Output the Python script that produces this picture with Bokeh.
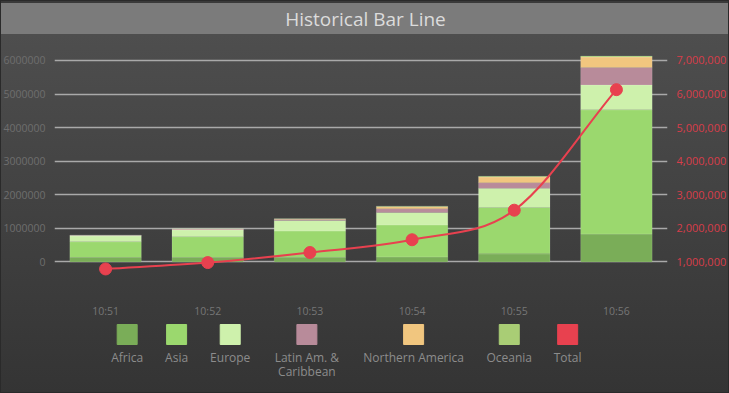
import numpy as np
from bokeh.plotting import figure
from bokeh.models import Range1d, LinearAxis, FixedTicker, NumeralTickFormatter, Label, ColumnDataSource
from bokeh.layouts import column
from bokeh.embed import file_html
from bokeh.resources import INLINE
from bokeh.core.properties import value

# ---------------- data ----------------
times = ["10:51", "10:52", "10:53", "10:54", "10:55", "10:56"]
africa = [130000, 130000, 130000, 150000, 240000, 830000]
asia = [470000, 620000, 790000, 950000, 1380000, 3700000]
europe = [170000, 200000, 310000, 375000, 570000, 740000]
latin = [15000, 20000, 30000, 110000, 170000, 520000]
north_america = [5000, 10000, 20000, 60000, 170000, 310000]
oceania = [5000, 5000, 5000, 15000, 20000, 30000]
total = [790000, 980000, 1280000, 1660000, 2540000, 6130000]

series_keys = ["africa", "asia", "europe", "latin", "north_america", "oceania"]
legend_labels = [["Africa"], ["Asia"], ["Europe"], ["Latin Am. &", "Caribbean"],
                 ["Northern America"], ["Oceania"], ["Total"]]
series_colors = ["#7aad58", "#9bd86e", "#cef1ac", "#b88b9a", "#f1c67f", "#a9cd75"]
total_color = "#e8414f"
left_ticks = [0, 1000000, 2000000, 3000000, 4000000, 5000000, 6000000]
right_ticks = [1000000, 2000000, 3000000, 4000000, 5000000, 6000000, 7000000]

FONT = value("Open Sans")

# ---------------- layout constants (pixels) ----------------
W = 729
FL, FR = 53, 667                 # frame left / right
TITLE_H = 34
MAIN_TOP, MAIN_BOT = TITLE_H, 320
FT, FB = 44, 290                 # frame top / bottom (page y)
LEG_H = 393 - MAIN_BOT

# ---------------- title (bar itself is the page background) ----------------
tfig = figure(width=W, height=TITLE_H, x_range=Range1d(FL, FR), y_range=Range1d(TITLE_H, 0),
              x_axis_type=None, y_axis_type=None, toolbar_location=None, output_backend="svg",
              min_border_left=FL, min_border_right=W - FR, min_border_top=0, min_border_bottom=0,
              background_fill_alpha=0, border_fill_alpha=0, outline_line_color=None)
tfig.add_layout(Label(x=W / 2, y=18.5, text="Historical Bar Line", text_align="center",
                      text_baseline="middle", text_font="Open Sans", text_font_size="19px",
                      text_color="#dcdcdc"))

# ---------------- main chart ----------------
x = list(range(len(times)))
src = ColumnDataSource(dict(x=x, africa=africa, asia=asia, europe=europe, latin=latin,
                            north_america=north_america, oceania=oceania))

y0_px, y6_px = 262.3, 60.0
ppm = (y0_px - y6_px) / 6e6
y_start = -(FB - y0_px) / ppm
y_end = 6e6 + (y6_px - FT) / ppm

p = figure(width=W, height=MAIN_BOT - MAIN_TOP, x_range=Range1d(-0.5, 5.5),
           y_range=Range1d(y_start, y_end), toolbar_location=None, output_backend="svg",
           min_border_left=FL, min_border_right=W - FR,
           min_border_top=FT - MAIN_TOP, min_border_bottom=MAIN_BOT - FB,
           background_fill_alpha=0, border_fill_alpha=0, outline_line_color=None)

p.vbar_stack(series_keys, x="x", width=0.7, fill_color=series_colors, source=src,
             line_color="#ffffff", line_alpha=0.12, line_width=1)


def style_axis(ax, color, size):
    ax.axis_line_color = None
    ax.major_tick_line_color = None
    ax.minor_tick_line_color = None
    ax.major_tick_out = 0
    ax.major_tick_in = 0
    ax.minor_tick_out = 0
    ax.minor_tick_in = 0
    ax.major_label_standoff = 9
    ax.major_label_text_color = color
    ax.major_label_text_font = "Open Sans"
    ax.major_label_text_font_size = size


yl = p.yaxis[0]
yl.ticker = FixedTicker(ticks=left_ticks)
yl.formatter = NumeralTickFormatter(format="0")
style_axis(yl, "#6e6e6e", "10.5px")

p.xgrid.visible = False
p.ygrid.ticker = FixedTicker(ticks=left_ticks)
p.ygrid.grid_line_color = "#a9a9a9"
p.ygrid.grid_line_width = 1.6

xa = p.xaxis[0]
xa.ticker = FixedTicker(ticks=x)
xa.major_label_overrides = {i: t for i, t in enumerate(times)}
style_axis(xa, "#767676", "10.5px")
xa.major_label_standoff = 14

p.extra_y_ranges = {"right": Range1d(y_start + 1e6, y_end + 1e6)}
yr = LinearAxis(y_range_name="right", ticker=FixedTicker(ticks=right_ticks),
                formatter=NumeralTickFormatter(format="0,0"))
style_axis(yr, "#d83d4a", "11px")
p.add_layout(yr, "right")

# smooth total line (cubic Bezier segments through the data points)
t = np.array(total, dtype=float)
xs = np.array(x, dtype=float)
m = np.zeros_like(t)
m[0] = t[1] - t[0]
m[-1] = t[-1] - t[-2]
m[1:-1] = (t[2:] - t[:-2]) / 2
bez = dict(x0=xs[:-1], y0=t[:-1], x1=xs[1:], y1=t[1:],
           cx0=xs[:-1] + 1 / 3, cy0=t[:-1] + m[:-1] / 3,
           cx1=xs[1:] - 1 / 3, cy1=t[1:] - m[1:] / 3)
p.bezier(x0="x0", y0="y0", x1="x1", y1="y1", cx0="cx0", cy0="cy0", cx1="cx1", cy1="cy1",
         source=ColumnDataSource(bez), line_color=total_color, line_width=2, y_range_name="right")
p.scatter(x=x, y=total, size=12, color=total_color, y_range_name="right")

# ---------------- legend ----------------
lfig = figure(width=W, height=LEG_H, x_range=Range1d(FL, FR), y_range=Range1d(393, MAIN_BOT),
              x_axis_type=None, y_axis_type=None, toolbar_location=None, output_backend="svg",
              min_border_left=FL, min_border_right=W - FR, min_border_top=0, min_border_bottom=0,
              background_fill_alpha=0, border_fill_alpha=0, outline_line_color=None)
leg_x = [125.8, 175.3, 229.0, 305.8, 412.7, 508.5, 567.0]
leg_colors = series_colors + [total_color]
lfig.scatter(x=leg_x, y=[334] * len(leg_x), marker="square", size=20, color=leg_colors)
tx, ty, tt = [], [], []
for cx, lines in zip(leg_x, legend_labels):
    for k, line in enumerate(lines):
        tx.append(cx)
        ty.append(357 + 14 * k)
        tt.append(line)
lfig.text(x=tx, y=ty, text=tt, text_align="center", text_baseline="middle",
          text_font=FONT, text_font_size="12px", text_color="#8c8c8c")

bg = ("linear-gradient(to bottom, #3a3a3a 0px, #3a3a3a 3px, #7b7b7b 3px, #7b7b7b 34px, "
      "#4e4e4e 34px, #343434 100%)")
layout = column(tfig, p, lfig, spacing=0,
                styles={"background": bg, "box-shadow": "inset 0 0 0 1px #2a2a2a"})

open("out.html", "w").write(file_html(layout, INLINE))
